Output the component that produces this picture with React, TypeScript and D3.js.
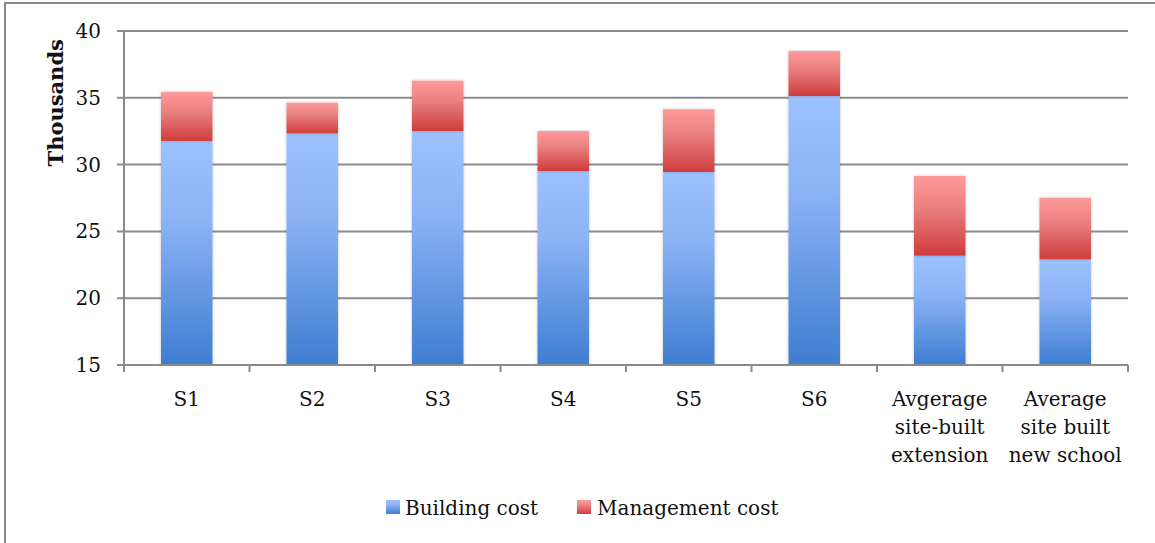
import React from 'react';
import * as d3 from 'd3';

const categories = ['S1', 'S2', 'S3', 'S4', 'S5', 'S6', 'Avgerage site-built extension', 'Average site built new school'];
const categoryLines = [['S1'], ['S2'], ['S3'], ['S4'], ['S5'], ['S6'], ['Avgerage', 'site-built', 'extension'], ['Average', 'site built', 'new school']];
const buildingCost = [31.77, 32.34, 32.51, 29.52, 29.45, 35.13, 23.18, 22.91];
const managementCost = [3.66, 2.29, 3.77, 2.99, 4.69, 3.37, 5.97, 4.61];
const yTicks = [15, 20, 25, 30, 35, 40];
const seriesNames = ['Building cost', 'Management cost'];

const App: React.FC = () => {
  const width = 1155;
  const height = 543;
  const margin = { top: 31, right: 27, bottom: 178, left: 124 };
  const font = '"DejaVu Serif", serif';
  const fs = 20;

  const x = d3
    .scaleBand()
    .domain(categories)
    .range([margin.left, width - margin.right])
    .paddingInner(0.59)
    .paddingOuter(0.295);

  const y = d3
    .scaleLinear()
    .domain([15, 40])
    .range([height - margin.bottom, margin.top]);

  const rows = categories.map((c, i) => ({ cat: c, b: buildingCost[i], m: managementCost[i] }));
  const stacked = d3.stack<any>().keys(['b', 'm'])(rows);
  const fills = ['url(#gBlue)', 'url(#gRed)'];

  const step = x.step();
  const boundaries = d3.range(categories.length + 1).map(i => margin.left + i * step);

  return (
    <svg width={width} height={height} style={{ position: 'absolute', left: 0, top: 0, background: '#fff' }}>
      <defs>
        <linearGradient id="gBlue" x1="0" y1="0" x2="0" y2="1">
          <stop offset="0" stopColor="#9cc1ff" />
          <stop offset="0.35" stopColor="#8cb3f4" />
          <stop offset="1" stopColor="#3e7dd1" />
        </linearGradient>
        <linearGradient id="gRed" x1="0" y1="0" x2="0" y2="1">
          <stop offset="0" stopColor="#ff9a9a" />
          <stop offset="0.4" stopColor="#ea8080" />
          <stop offset="1" stopColor="#cf3c3c" />
        </linearGradient>
        <filter id="shadow" x="-20%" y="-5%" width="140%" height="110%">
          <feDropShadow dx="0" dy="0" stdDeviation="1.5" floodColor="#000" floodOpacity="0.25" />
        </filter>
      </defs>

      {/* outer frame */}
      <rect x={5} y={3} width={1170} height={560} fill="none" stroke="#8a8a8a" strokeWidth={2} />

      {/* gridlines and y ticks */}
      {yTicks.map(t => (
        <g key={t}>
          <line x1={margin.left - 7} x2={t === 15 ? margin.left : width - margin.right} y1={y(t)} y2={y(t)} stroke="#8c8c8c" strokeWidth={2} />
          <text x={101} y={y(t)} dy="0.35em" textAnchor="end" fontFamily={font} fontSize={fs} fill="#111">{t}</text>
        </g>
      ))}

      {/* bars */}
      {stacked.map((s, si) => (
        <g key={si} filter="url(#shadow)">
          {s.map((d, i) => (
            <rect
              key={i}
              x={x(categories[i])}
              width={x.bandwidth()}
              y={y(d[1])}
              height={y(d[0] < 15 ? 15 : d[0]) - y(d[1])}
              fill={fills[si]}
            />
          ))}
        </g>
      ))}

      {/* axes */}
      <line x1={margin.left} x2={margin.left} y1={margin.top} y2={y(15) + 7} stroke="#8a8a8a" strokeWidth={2} />
      <line x1={margin.left - 7} x2={width - margin.right} y1={y(15)} y2={y(15)} stroke="#8a8a8a" strokeWidth={2} />
      {boundaries.map((bx, i) => (
        <line key={i} x1={bx} x2={bx} y1={y(15)} y2={y(15) + 7} stroke="#8a8a8a" strokeWidth={2} />
      ))}

      {/* category labels */}
      {categoryLines.map((lines, i) => (
        <text key={i} x={(x(categories[i]) as number) + x.bandwidth() / 2} y={406} textAnchor="middle" fontFamily={font} fontSize={fs} fill="#111">
          {lines.map((l, j) => (
            <tspan key={j} x={(x(categories[i]) as number) + x.bandwidth() / 2} dy={j === 0 ? 0 : 28}>{l}</tspan>
          ))}
        </text>
      ))}

      {/* y title */}
      <text transform={`translate(63,${(y(40) + y(30)) / 2 + 5}) rotate(-90)`} textAnchor="middle" fontFamily={font} fontSize={21} fontWeight="bold" fill="#111">
        Thousands
      </text>

      {/* legend */}
      <g>
        <rect x={386} y={500} width={14} height={14} fill="url(#gBlue)" />
        <text x={405} y={515} fontFamily={font} fontSize={fs} fill="#111">{seriesNames[0]}</text>
        <rect x={577} y={500} width={14} height={14} fill="url(#gRed)" />
        <text x={597} y={515} fontFamily={font} fontSize={fs} fill="#111">{seriesNames[1]}</text>
      </g>
    </svg>
  );
};

export default App;
